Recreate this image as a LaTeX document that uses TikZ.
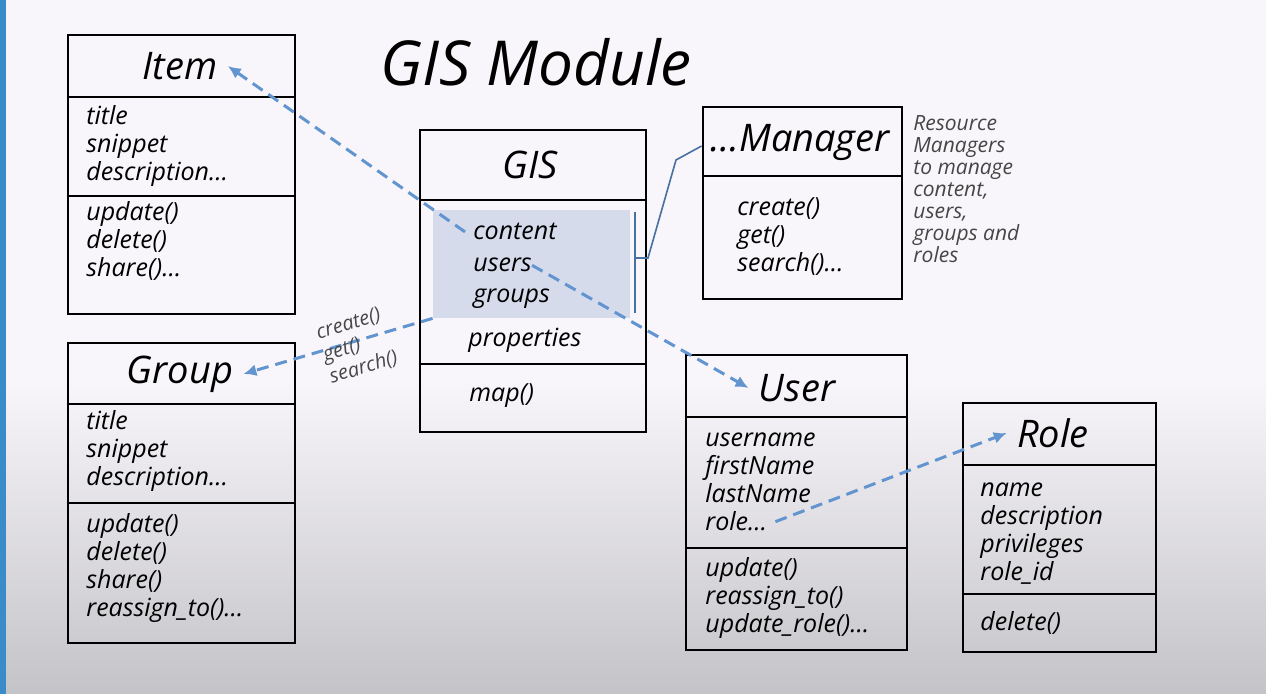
\documentclass[tikz,border=0pt]{standalone}
\usepackage{fontspec}
\setmainfont{Open Sans}
\usetikzlibrary{arrows.meta, positioning, fit, calc}

\definecolor{arrowblue}{RGB}{98,148,208}
\definecolor{linkblue}{RGB}{72,112,160}
\definecolor{hilite}{RGB}{214,219,236}
\definecolor{bgtop}{RGB}{248,246,250}
\definecolor{bgbot}{RGB}{196,195,200}
\definecolor{sidebar}{RGB}{58,140,200}
\definecolor{notegray}{RGB}{70,70,70}

\begin{document}
\begin{tikzpicture}[
    x=0.5pt, y=-0.5pt,
    % --- Global styles ---
    >={Latex[length=6.5pt,width=6pt]},
    every node/.style={font=\itshape\fontsize{12.5}{14}\selectfont, inner sep=0pt},
    % --- Class boxes ---
    classbox/.style={draw, line width=1.4pt, fit={#1}, inner sep=0pt},
    divider/.style={line width=0.7pt},
    hilitebox/.style={fill=hilite, fit={#1}, inner sep=0pt},
    ctitle/.style={font=\itshape\fontsize{19}{21}\selectfont, inner sep=5pt},
    % members are placed at the baseline of their last line
    member/.style={anchor=base west, align=left},
    % --- Side note ---
    note/.style={member, font=\itshape\fontsize{10.5}{11}\selectfont, text=notegray},
    % --- Arrow styles ---
    dep/.style={->, draw=arrowblue, line width=1.5pt, dash pattern=on 6pt off 3.5pt},
    link/.style={draw=linkblue, line width=0.8pt},
    % --- Label style ---
    lbl/.style={font=\itshape\fontsize{10}{11.5}\selectfont, text=notegray, align=left},
  ]

  \useasboundingbox (0,0) rectangle (1266,694);

  %% ---- Background ----
  \fill[bgtop] (0,0) rectangle (1266,694);
  \shade[top color=bgtop, bottom color=bgbot] (0,380) rectangle (1266,694);
  \fill[sidebar] (0,0) rectangle (6,694);

  \node[font=\itshape\fontsize{31}{34}\selectfont] (heading) at (536,62) {GIS Module};

  %% ---- Item ----
  \node[classbox={(68,35) (295,314)}] (item) {};
  \draw[divider] (item.west |- 0,97) -- (item.east |- 0,97);
  \draw[divider] (item.west |- 0,196) -- (item.east |- 0,196);
  \node[ctitle] (itemT) at (180,66) {Item};
  \node[member] (itemA) at (86,181) {title\\snippet\\description\ldots};
  \node[member] (itemM) at (86,277) {update()\\delete()\\share()\ldots};

  %% ---- Group ----
  \node[classbox={(68,343) (295,643)}] (group) {};
  \draw[divider] (group.west |- 0,404) -- (group.east |- 0,404);
  \draw[divider] (group.west |- 0,503) -- (group.east |- 0,503);
  \node[ctitle] (groupT) at (180,374) {Group};
  \node[member] (groupA) at (86,486) {title\\snippet\\description\ldots};
  \node[member] (groupM) at (86,617) {update()\\delete()\\share()\\reassign\_to()\ldots};

  %% ---- GIS ----
  \node[classbox={(420,130) (646,432)}] (gis) {};
  \draw[divider] (gis.west |- 0,200) -- (gis.east |- 0,200);
  \draw[divider] (gis.west |- 0,364) -- (gis.east |- 0,364);
  \node[hilitebox={(433,210) (630,318)}] (sel) {};
  \node[ctitle] (gisT) at (530,165) {GIS};
  \node[member] (content) at (473,240) {content};
  \node[member] (users) at (473,272) {users};
  \node[member] (groups) at (473,303) {groups};
  \node[member] (props) at (468,347) {properties};
  \node[member] (gisM) at (469,402) {map()};

  % bracket over the managed members
  \coordinate (braceTop) at (635,212);
  \coordinate (braceBot) at (635,313);
  \coordinate (braceMid) at (635,258);
  \draw[link] (braceTop) -- (braceBot);

  %% ---- Manager ----
  \node[classbox={(703,107) (902,299)}] (mgr) {};
  \draw[divider] (mgr.west |- 0,176) -- (mgr.east |- 0,176);
  \node[ctitle] (mgrT) at (800,143) {\ldots Manager};
  \node[member] (mgrM) at (737,272) {create()\\get()\\search()\ldots};
  \node[note] (mgrNote) at (913,263)
    {Resource\\Managers\\to manage\\content,\\users,\\groups and\\roles};

  \draw[link] (braceMid) -- ++(13,0) -- (676,160) -- (mgr.west |- 0,146);

  %% ---- User ----
  \node[classbox={(686,355) (907,650)}] (user) {};
  \draw[divider] (user.west |- 0,417) -- (user.east |- 0,417);
  \draw[divider] (user.west |- 0,548) -- (user.east |- 0,548);
  \node[ctitle] (userT) at (797,388) {User};
  \node[member] (userA) at (705,503) {username\\firstName\\lastName};
  \node[member] (role) at (705,531) {role\ldots};
  \node[member] (userM) at (705,633) {update()\\reassign\_to()\\update\_role()\ldots};

  %% ---- Role ----
  \node[classbox={(963,403) (1156,652)}] (rolebox) {};
  \draw[divider] (rolebox.west |- 0,465) -- (rolebox.east |- 0,465);
  \draw[divider] (rolebox.west |- 0,594) -- (rolebox.east |- 0,594);
  \node[ctitle] (roleT) at (1053,433) {Role};
  \node[member] (roleA) at (980,581) {name\\description\\privileges\\role\_id};
  \node[member] (roleM) at (980,631) {delete()};

  %% ---- Dependencies ----
  \draw[dep] ([xshift=-4pt]content.west) -- (itemT.east);
  \draw[dep] (users.east) -- (userT.west);
  \draw[dep] (sel.south west) -- (groupT.east);
  \draw[dep] ([xshift=4pt]role.east) -- (roleT.west);

  \node[lbl, rotate=17] (ops) at (357,346) {create()\\get()\\search()};

\end{tikzpicture}
\end{document}
